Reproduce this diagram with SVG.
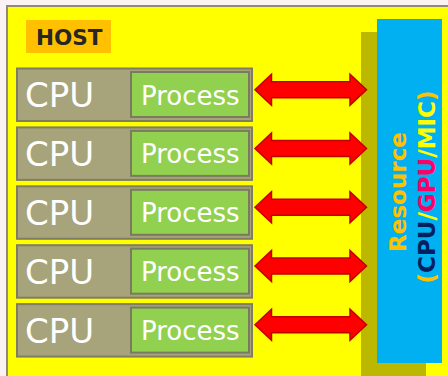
<svg xmlns="http://www.w3.org/2000/svg" width="448" height="376" viewBox="0 0 448 376">
<defs>
<style>
.cpubox{fill:#a7a37a;stroke:#7f7d62;stroke-width:2}
.procbox{fill:#92d050;stroke:#7a7a5e;stroke-width:2}
.cpu{font-family:"DejaVu Sans",sans-serif;font-size:34px;fill:#ffffff}
.proc{font-family:"DejaVu Sans",sans-serif;font-size:26px;fill:#ffffff}
.arrow{fill:#ff0000;stroke:#c00000;stroke-width:1.5;stroke-linejoin:miter}
.vt{font-family:"DejaVu Sans",sans-serif;font-weight:bold;font-size:23px}
</style>
<path id="dbl" d="M255,0 L271.5,-15.5 L271.5,-8 L350,-8 L350,-15.5 L366.5,0 L350,15.5 L350,8 L271.5,8 L271.5,15.5 Z"/>
</defs>
<rect x="0" y="0" width="448" height="376" fill="#fbf3f3"/>
<rect id="host-frame" x="7" y="6" width="445" height="375" fill="#ffff00" stroke="#8c8c78" stroke-width="2"/>
<g id="host-label">
<rect x="26" y="20" width="85" height="33" fill="#ffc000"/>
<text x="36" y="45" font-family="DejaVu Sans,sans-serif" font-weight="bold" font-size="21.5" fill="#262626">HOST</text>
</g>
<g id="resource">
<rect x="361" y="32" width="65" height="344" fill="#bcb800"/>
<rect x="377" y="19" width="65" height="344" fill="#00b0f0"/>
<text class="vt" transform="translate(406,192) rotate(-90)" text-anchor="middle" fill="#ffc000">Resource</text>
<text class="vt" transform="translate(435,187) rotate(-90)" text-anchor="middle"><tspan fill="#ffc000">(</tspan><tspan fill="#002060">CPU</tspan><tspan fill="#ffff00">/</tspan><tspan fill="#ff0066">GPU</tspan><tspan fill="#ffff00">/MIC</tspan><tspan fill="#ffc000">)</tspan></text>
</g>
<g id="row1">
<rect class="cpubox" x="17" y="68.5" width="235" height="52.5"/>
<rect class="procbox" x="131" y="72" width="118" height="45"/>
<text class="cpu" x="25" y="107">CPU</text>
<text class="proc" x="141" y="104.5">Process</text>
</g>
<g id="row2" transform="translate(0,58.9)">
<rect class="cpubox" x="17" y="68.5" width="235" height="52.5"/>
<rect class="procbox" x="131" y="72" width="118" height="45"/>
<text class="cpu" x="25" y="107">CPU</text>
<text class="proc" x="141" y="104.5">Process</text>
</g>
<g id="row3" transform="translate(0,117.8)">
<rect class="cpubox" x="17" y="68.5" width="235" height="52.5"/>
<rect class="procbox" x="131" y="72" width="118" height="45"/>
<text class="cpu" x="25" y="107">CPU</text>
<text class="proc" x="141" y="104.5">Process</text>
</g>
<g id="row4" transform="translate(0,176.7)">
<rect class="cpubox" x="17" y="68.5" width="235" height="52.5"/>
<rect class="procbox" x="131" y="72" width="118" height="45"/>
<text class="cpu" x="25" y="107">CPU</text>
<text class="proc" x="141" y="104.5">Process</text>
</g>
<g id="row5" transform="translate(0,235.6)">
<rect class="cpubox" x="17" y="68.5" width="235" height="52.5"/>
<rect class="procbox" x="131" y="72" width="118" height="45"/>
<text class="cpu" x="25" y="107">CPU</text>
<text class="proc" x="141" y="104.5">Process</text>
</g>
<g id="connectors">
<use href="#dbl" class="arrow" transform="translate(0,89.7)"/>
<use href="#dbl" class="arrow" transform="translate(0,148.5)"/>
<use href="#dbl" class="arrow" transform="translate(0,207.2)"/>
<use href="#dbl" class="arrow" transform="translate(0,266)"/>
<use href="#dbl" class="arrow" transform="translate(0,324.7)"/>
</g>
</svg>
